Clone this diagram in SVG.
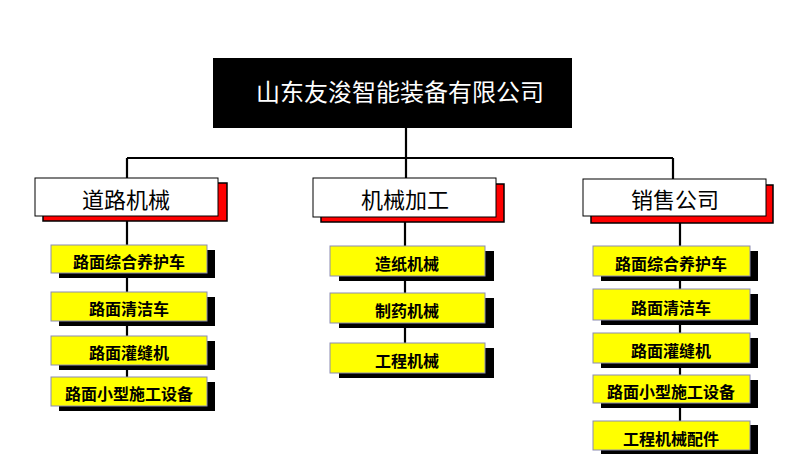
<svg xmlns="http://www.w3.org/2000/svg" width="800" height="468" viewBox="0 0 800 468">
<style>
.ln{stroke:#000;stroke-width:2.2;fill:none}
.gbox{fill:#fff;stroke:#000;stroke-width:1}
.gsh{fill:#f00;stroke:#000;stroke-width:1.5}
.ybox{fill:#ff0;stroke:#8c8cb4;stroke-width:1}
.ysh{fill:#000}
.gt{font-family:"Noto Sans CJK SC","Noto Sans",sans-serif;font-size:22px;fill:#000;text-anchor:middle}
.yt{font-family:"Noto Sans CJK SC","Noto Sans",sans-serif;font-size:16px;font-weight:bold;fill:#000;text-anchor:middle}
.tt{font-family:"Noto Sans CJK SC","Noto Sans",sans-serif;font-size:24px;fill:#fff;text-anchor:middle}
</style>
<rect width="800" height="468" fill="#fff"/>
<g id="connectors">
<path class="ln" d="M406 128V158M127 158H673M127 158V178M406 158V178M673 158V179"/>
<path class="ln" d="M127 221V390M405 222V358M680 223V436"/>
</g>
<g id="root">
<rect x="213" y="58" width="359" height="70" fill="#000"/>
<text class="tt" x="400" y="101">山东友浚智能装备有限公司</text>
</g>
<g id="g1">
<rect class="gsh" x="43" y="183" width="184" height="38"/>
<rect class="gbox" x="35" y="178" width="183" height="38"/>
<text class="gt" x="126" y="208">道路机械</text>
</g>
<g id="g2">
<rect class="gsh" x="321" y="184" width="183" height="38"/>
<rect class="gbox" x="313" y="178" width="183" height="39"/>
<text class="gt" x="405" y="208">机械加工</text>
</g>
<g id="g3">
<rect class="gsh" x="591" y="185" width="182" height="38"/>
<rect class="gbox" x="583" y="179" width="183" height="37"/>
<text class="gt" x="675" y="208">销售公司</text>
</g>
<g id="l1"><rect class="ysh" x="59" y="250" width="156" height="28"/><rect class="ybox" x="51" y="245" width="156" height="28"/><text class="yt" x="129" y="268">路面综合养护车</text></g>
<g id="l2"><rect class="ysh" x="59" y="297" width="156" height="29"/><rect class="ybox" x="51" y="292" width="156" height="29"/><text class="yt" x="129" y="315">路面清洁车</text></g>
<g id="l3"><rect class="ysh" x="59" y="341" width="156" height="29"/><rect class="ybox" x="51" y="336" width="156" height="29"/><text class="yt" x="129" y="359">路面灌缝机</text></g>
<g id="l4"><rect class="ysh" x="59" y="382" width="156" height="29"/><rect class="ybox" x="51" y="377" width="156" height="29"/><text class="yt" x="129" y="400">路面小型施工设备</text></g>
<g id="m1"><rect class="ysh" x="339" y="251" width="155" height="30"/><rect class="ybox" x="330" y="246" width="155" height="30"/><text class="yt" x="407" y="270">造纸机械</text></g>
<g id="m2"><rect class="ysh" x="339" y="298" width="155" height="30"/><rect class="ybox" x="330" y="293" width="155" height="30"/><text class="yt" x="407" y="317">制药机械</text></g>
<g id="m3"><rect class="ysh" x="339" y="348" width="155" height="30"/><rect class="ybox" x="330" y="343" width="155" height="30"/><text class="yt" x="407" y="367">工程机械</text></g>
<g id="r1"><rect class="ysh" x="601" y="251" width="157" height="30"/><rect class="ybox" x="593" y="246" width="157" height="30"/><text class="yt" x="671" y="270">路面综合养护车</text></g>
<g id="r2"><rect class="ysh" x="601" y="294" width="157" height="31"/><rect class="ybox" x="593" y="289" width="157" height="31"/><text class="yt" x="671" y="314">路面清洁车</text></g>
<g id="r3"><rect class="ysh" x="601" y="338" width="157" height="30"/><rect class="ybox" x="593" y="333" width="157" height="30"/><text class="yt" x="671" y="357">路面灌缝机</text></g>
<g id="r4"><rect class="ysh" x="601" y="380" width="157" height="28"/><rect class="ybox" x="593" y="375" width="157" height="28"/><text class="yt" x="671" y="398">路面小型施工设备</text></g>
<g id="r5"><rect class="ysh" x="601" y="425" width="157" height="29"/><rect class="ybox" x="593" y="421" width="157" height="29"/><text class="yt" x="671" y="445">工程机械配件</text></g>
</svg>
